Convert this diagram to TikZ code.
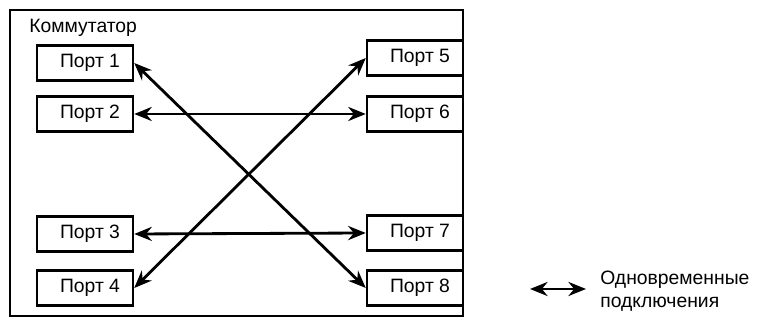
\documentclass[tikz,border=0pt]{standalone}
\usepackage{fontspec}
\setmainfont{Liberation Sans}
\usetikzlibrary{arrows.meta}

\tikzset{
  port/.style={draw, line width=1.4pt, minimum width=1.92cm, minimum height=0.7cm, inner sep=0pt},
  portlabel/.style={xshift=0.1cm},
  link/.style={line width=1.6pt, {Stealth[length=10pt,width=8pt]}-{Stealth[length=10pt,width=8pt]}}
}

\begin{document}
\begin{tikzpicture}[font=\fontsize{11}{13}\selectfont]
\useasboundingbox (0,0) rectangle (15.16,6.42);
\draw[line width=1.6pt] (0.2,0.1) rectangle (9.26,6.22);
\node[anchor=west, inner sep=0pt] (sw) at (0.58,5.86) {Коммутатор};

\node[port] (p1) at (1.7,5.16) {\hspace{0.2cm}Порт 1};
\node[port] (p2) at (1.7,4.14) {\hspace{0.2cm}Порт 2};
\node[port] (p3) at (1.7,1.74) {\hspace{0.2cm}Порт 3};
\node[port] (p4) at (1.7,0.66) {\hspace{0.2cm}Порт 4};
\node[port] (p5) at (8.3,5.26) {\hspace{0.2cm}Порт 5};
\node[port] (p6) at (8.3,4.14) {\hspace{0.2cm}Порт 6};
\node[port] (p7) at (8.3,1.76) {\hspace{0.2cm}Порт 7};
\node[port] (p8) at (8.3,0.66) {\hspace{0.2cm}Порт 8};

\draw[link] (p1.east) -- (p8.west);
\draw[link] (p2.east) -- (p6.west);
\draw[link] (p3.east) -- (p7.west);
\draw[link] (p4.east) -- (p5.west);

% legend
\coordinate (la) at (10.6,0.64);
\coordinate (lb) at (11.72,0.64);
\draw[link] (la) -- (lb);
\node[anchor=west, align=left, inner sep=0pt] (leg) at (12.0,0.6) {Одновременные\\подключения};
\end{tikzpicture}
\end{document}
